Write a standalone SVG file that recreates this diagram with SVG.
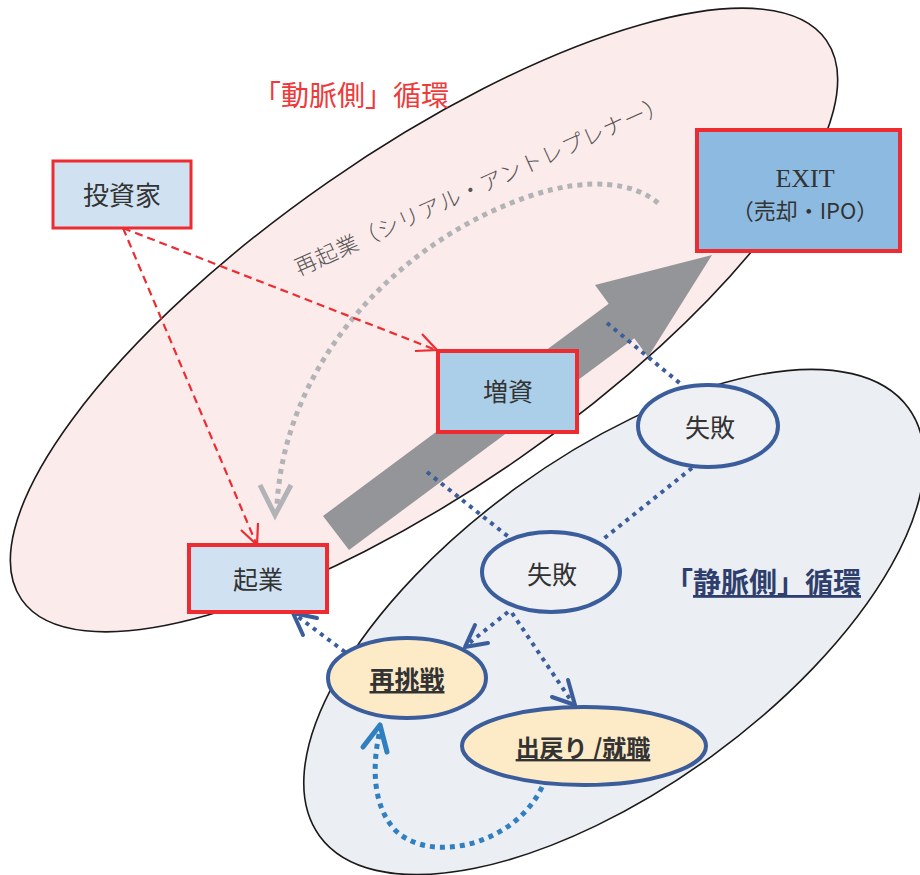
<svg xmlns="http://www.w3.org/2000/svg" width="920" height="875" viewBox="0 0 920 875">
<style>
.bg{stroke:#1a1a1a;stroke-width:1.6}
.box{stroke:#ee2b30;stroke-width:4}
.lbl{font-family:"Noto Sans CJK JP","Noto Sans CJK SC",sans-serif;font-size:25px;fill:#333;text-anchor:middle}
.bel{stroke:#3b5d9c;stroke-width:4}
.dot{stroke:#3b5d9c;stroke-width:4;stroke-dasharray:4 5;fill:none}
.head{stroke:#3b5d9c;stroke-width:4;fill:none;stroke-linecap:round;stroke-linejoin:round}
.red{stroke:#ee2b30;stroke-width:2.2;stroke-dasharray:8 5;fill:none}
.redh{stroke:#ee2b30;stroke-width:2.2;fill:none}
</style>
<g id="background">
<ellipse cx="424" cy="320" rx="490" ry="168" transform="rotate(-34.8 424 320)" fill="#fcebeb" class="bg"/>
<ellipse cx="614" cy="622" rx="364" ry="166" transform="rotate(-36 614 622)" fill="#ebeef2" class="bg"/>
<text x="253" y="106" font-family="'Noto Sans CJK JP',sans-serif" font-size="28" fill="#ee3a3a">「動脈側」循環</text>
<text x="665" y="593" font-family="'Noto Sans CJK JP',sans-serif" font-size="28" font-weight="bold" fill="#2e3f6e">「<tspan text-decoration="underline">静脈側」循環</tspan></text>
<polygon points="323,516 608.7,303.7 595,285 712,255 648,357 634.3,338.3 349,550" fill="#939598"/>
<text x="0" y="0" transform="translate(299 276) rotate(-24.2)" font-family="'Noto Sans CJK JP',sans-serif" font-size="22" font-weight="300" fill="#555" textLength="405" lengthAdjust="spacing">再起業（シリアル・アントレプレナー）</text>
</g>
<g id="connectors">
<path d="M658,203 C635,183 590,176 530,196 C400,240 285,360 277,505" fill="none" stroke="#b1b3b6" stroke-width="5" stroke-dasharray="5 5"/>
<polyline points="260,485 275,515 291,485" fill="none" stroke="#b1b3b6" stroke-width="5" stroke-linejoin="miter"/>
<line x1="123" y1="228" x2="436" y2="350" class="red"/>
<polyline points="415,351 437,350 422,334" class="redh"/>
<line x1="123" y1="228" x2="256" y2="543" class="red"/>
<polyline points="241,530 257,545 258,523" class="redh"/>
<line x1="607" y1="323" x2="682" y2="385" class="dot"/>
<line x1="427" y1="472" x2="510" y2="538" class="dot"/>
<line x1="692" y1="468" x2="602" y2="540" class="dot"/>
<line x1="508" y1="612" x2="468" y2="644" class="dot"/>
<polyline points="475,625 465,647 488,643" class="head"/>
<line x1="512" y1="613" x2="572" y2="702" class="dot"/>
<polyline points="552,697 575,705 568,680" class="head"/>
<line x1="345" y1="652" x2="297" y2="616" class="dot"/>
<polyline points="303,635 293,613 317,618" class="head"/>
<path d="M542,787 C515,845 430,865 395,830 C372,805 372,765 380,730" fill="none" stroke="#2f7fc1" stroke-width="5" stroke-dasharray="5 5"/>
<polyline points="363,747 380,725 387,752" fill="none" stroke="#2f7fc1" stroke-width="5" stroke-linecap="round" stroke-linejoin="round"/>
</g>
<g id="investor">
<rect x="53" y="161" width="138" height="67" fill="#d0e2f2" stroke="#ee2b30" stroke-width="3"/>
<text x="122" y="205" class="lbl" style="font-size:26px">投資家</text>
</g>
<g id="exit">
<rect x="697" y="130" width="203" height="121" fill="#8dbae0" class="box"/>
<text x="805" y="187" font-family="'Liberation Serif',serif" font-size="26" fill="#333" text-anchor="middle">EXIT</text>
<text x="805" y="219" font-family="'Noto Sans CJK JP',sans-serif" font-size="22" fill="#333" text-anchor="middle">（売却・IPO）</text>
</g>
<g id="zoushi">
<rect x="438" y="351" width="139" height="81" fill="#abcfe8" class="box"/>
<text x="508" y="401" class="lbl">増資</text>
</g>
<g id="kigyou">
<rect x="189" y="545" width="138" height="67" fill="#d0e2f2" class="box"/>
<text x="258" y="589" class="lbl">起業</text>
</g>
<g id="shippai1">
<ellipse cx="708" cy="426" rx="70" ry="41" fill="#eef0f3" class="bel"/>
<text x="710" y="437" class="lbl">失敗</text>
</g>
<g id="shippai2">
<ellipse cx="551" cy="572" rx="69" ry="40" fill="#eef0f3" class="bel"/>
<text x="552" y="584" class="lbl">失敗</text>
</g>
<g id="saichousen">
<ellipse cx="407" cy="678" rx="79" ry="40" fill="#fdebc8" class="bel"/>
<text x="407" y="689" class="lbl" font-weight="bold" text-decoration="underline">再挑戦</text>
</g>
<g id="demodori">
<ellipse cx="584" cy="746" rx="122" ry="39" fill="#fdebc8" class="bel"/>
<text x="583" y="757" class="lbl" font-weight="bold" text-decoration="underline" style="font-size:24px">出戻り /就職</text>
</g>
</svg>
